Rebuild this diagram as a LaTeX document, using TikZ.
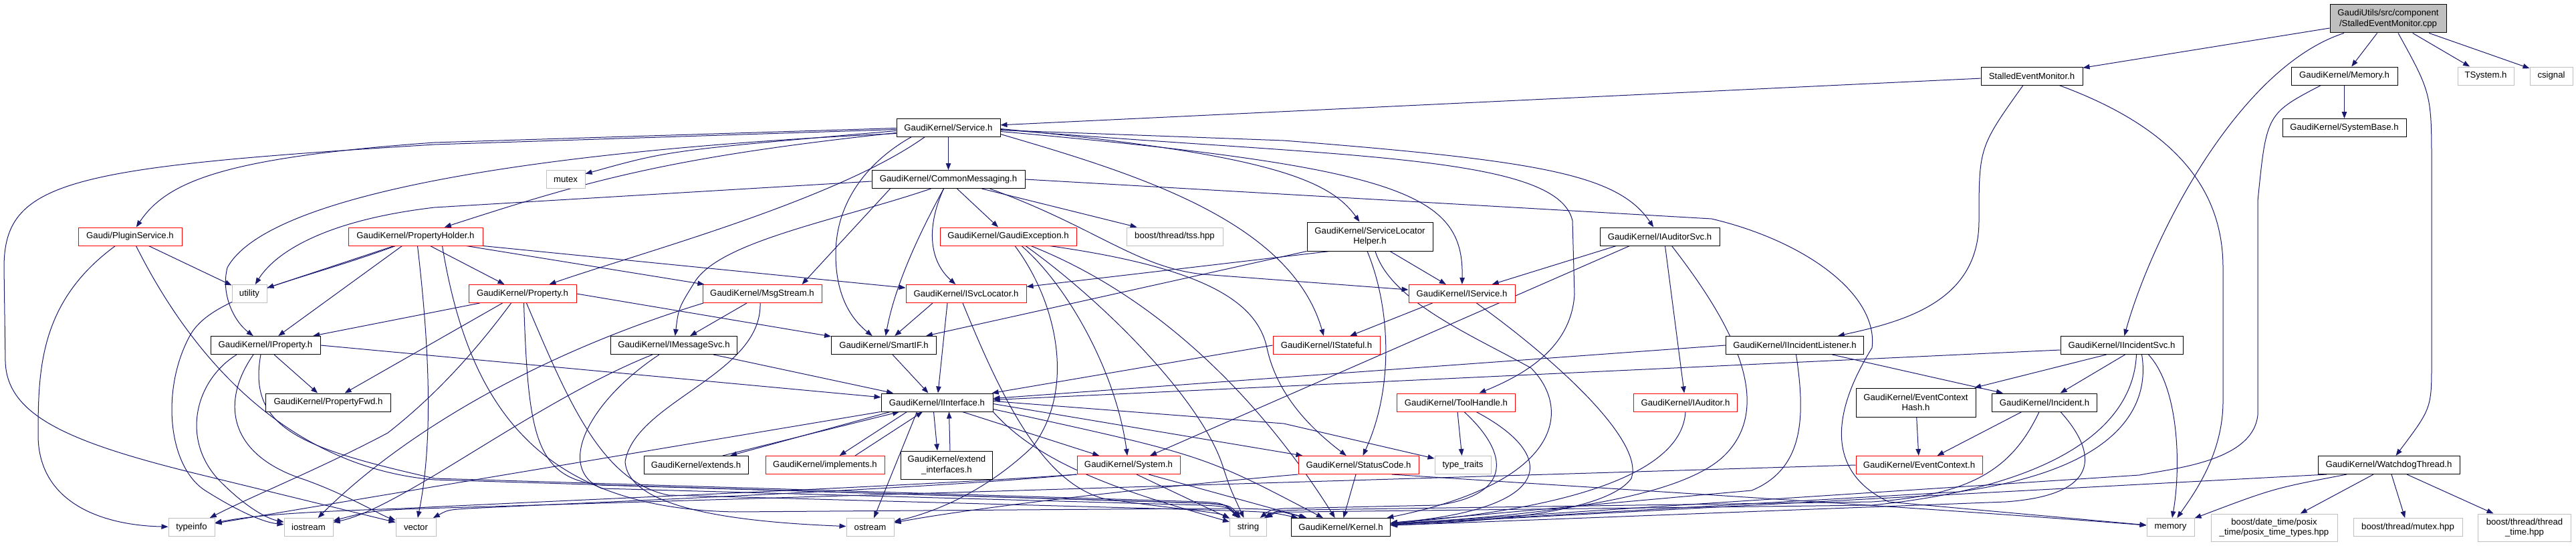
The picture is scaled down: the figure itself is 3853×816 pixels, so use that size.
\documentclass[tikz,border=0pt]{standalone}
\usepackage{fontspec}
\setmainfont{Liberation Sans}
\usetikzlibrary{arrows.meta}
\definecolor{edgec}{RGB}{25,25,112}
\definecolor{grayb}{RGB}{191,191,191}
\pgfdeclarelayer{bg}
\pgfsetlayers{bg,main}
\newcommand{\nodefont}{\fontsize{13.2pt}{15.5pt}\selectfont}
\begin{document}
\begin{tikzpicture}[x=1pt,y=-1pt,
  base/.style={rectangle, inner sep=0pt, minimum height=27pt, font=\nodefont, align=center, line width=1pt, fill=white},
  nb/.style={base, draw=black},
  nr/.style={base, draw=red},
  ng/.style={base, draw=grayb},
  e/.style={draw=edgec, line width=1pt, -{Triangle[length=10pt,width=7.5pt]}},
]
\useasboundingbox (0,0) rectangle (3853,816);

% row 1-2
\node[nb, fill=grayb, minimum width=174pt, minimum height=42pt] (root) at (3572,28) {GaudiUtils/src/component\\/StalledEventMonitor.cpp};
\node[nb, minimum width=152pt] (sem) at (3039,113.5) {StalledEventMonitor.h};
\node[nb, minimum width=159pt] (mem) at (3506.5,113.5) {GaudiKernel/Memory.h};
\node[ng, minimum width=84pt] (tsys) at (3718,113.5) {TSystem.h};
\node[ng, minimum width=64pt] (csig) at (3816,113.5) {csignal};
% row 3
\node[nb, minimum width=155pt] (svc) at (1418.5,190.5) {GaudiKernel/Service.h};
\node[nb, minimum width=185pt] (sysb) at (3506.5,191) {GaudiKernel/SystemBase.h};
% row 4
\node[ng, minimum width=58pt] (mutex) at (846,268) {mutex};
\node[nb, minimum width=229pt] (cm) at (1418.5,268) {GaudiKernel/CommonMessaging.h};
% row 5
\node[nr, minimum width=155pt] (plug) at (194.5,353.5) {Gaudi/PluginService.h};
\node[nr, minimum width=201pt] (ph) at (621.5,353.5) {GaudiKernel/PropertyHolder.h};
\node[nr, minimum width=204pt] (gexc) at (1508,353.5) {GaudiKernel/GaudiException.h};
\node[ng, minimum width=144pt] (tss) at (1757,353.5) {boost/thread/tss.hpp};
\node[nb, minimum width=188pt, minimum height=43pt] (slh) at (2049,353.5) {GaudiKernel/ServiceLocator\\Helper.h};
\node[nb, minimum width=179pt] (iasvc) at (2482.5,353.5) {GaudiKernel/IAuditorSvc.h};
% row 6
\node[ng, minimum width=52pt] (util) at (373,439) {utility};
\node[nr, minimum width=161pt] (prop) at (781.5,439) {GaudiKernel/Property.h};
\node[nr, minimum width=178pt] (msgs) at (1140,439) {GaudiKernel/MsgStream.h};
\node[nr, minimum width=180pt] (isl) at (1445,439) {GaudiKernel/ISvcLocator.h};
\node[nr, minimum width=159pt] (isvc) at (2186.5,439) {GaudiKernel/IService.h};
% row 7
\node[nb, minimum width=164pt] (iprop) at (397,516) {GaudiKernel/IProperty.h};
\node[nb, minimum width=189pt] (imsg) at (1008,516) {GaudiKernel/IMessageSvc.h};
\node[nb, minimum width=157pt] (sif) at (1322,516) {GaudiKernel/SmartIF.h};
\node[nr, minimum width=160pt] (istf) at (1984,516) {GaudiKernel/IStateful.h};
\node[nb, minimum width=206pt] (iil) at (2684.5,516) {GaudiKernel/IIncidentListener.h};
\node[nb, minimum width=183pt] (iisvc) at (3173.5,516) {GaudiKernel/IIncidentSvc.h};
% row 8
\node[nb, minimum width=187pt] (pfwd) at (491,601.5) {GaudiKernel/PropertyFwd.h};
\node[nb, minimum width=167pt] (iint) at (1401.5,601.5) {GaudiKernel/IInterface.h};
\node[nr, minimum width=177pt] (th) at (2178,601.5) {GaudiKernel/ToolHandle.h};
\node[nr, minimum width=155pt] (iaud) at (2521,601.5) {GaudiKernel/IAuditor.h};
\node[nb, minimum width=179pt, minimum height=43pt] (ech) at (2865.5,601.5) {GaudiKernel/EventContext\\Hash.h};
\node[nb, minimum width=157pt] (inc) at (3058,601.5) {GaudiKernel/Incident.h};
% row 9
\node[nb, minimum width=156pt] (ext) at (1041,695) {GaudiKernel/extends.h};
\node[nr, minimum width=178pt] (impl) at (1234,695) {GaudiKernel/implements.h};
\node[nb, minimum width=137pt, minimum height=42pt] (extif) at (1416,695) {GaudiKernel/extend\\\_interfaces.h};
\node[nr, minimum width=154pt] (sys) at (1688,695) {GaudiKernel/System.h};
\node[nr, minimum width=180pt] (sc) at (2032,695) {GaudiKernel/StatusCode.h};
\node[ng, minimum width=84pt] (tt) at (2188,695) {type\_traits};
\node[nr, minimum width=189pt] (ec) at (2870.5,695) {GaudiKernel/EventContext.h};
\node[nb, minimum width=212pt] (wd) at (3573,695) {GaudiKernel/WatchdogThread.h};
% row 10
\node[ng, minimum width=69pt] (tinfo) at (286.5,788) {typeinfo};
\node[ng, minimum width=73pt] (ios) at (461.5,788) {iostream};
\node[ng, minimum width=60pt] (vec) at (622,788) {vector};
\node[ng, minimum width=71pt] (ost) at (1301.5,788) {ostream};
\node[ng, minimum width=55pt] (str) at (1867,788) {string};
\node[nb, minimum width=148pt] (kern) at (2005.5,788) {GaudiKernel/Kernel.h};
\node[ng, minimum width=71pt] (memory) at (3246.5,788) {memory};
\node[ng, minimum width=189pt, minimum height=41pt] (bdt) at (3401.5,788.5) {boost/date\_time/posix\\\_time/posix\_time\_types.hpp};
\node[ng, minimum width=163pt] (bmx) at (3601.5,788) {boost/thread/mutex.hpp};
\node[ng, minimum width=139pt, minimum height=41pt] (btt) at (3776,788.5) {boost/thread/thread\\\_time.hpp};

\begin{pgfonlayer}{bg}
% root
\draw[e] (root) -- (sem);
\draw[e] (root) -- (mem);
\draw[e] (root) -- (tsys);
\draw[e] (root) -- (csig);
\draw[e] ([xshift=-66pt]root.south) .. controls (3350,100) and (3220,350) .. (iisvc);
\draw[e] ([xshift=15pt]root.south) .. controls (3637,140) .. (3637,250) -- (3637,540) .. controls (3637,610) .. (wd);
% sem
\draw[e] (sem) -- (svc);
\draw[e] ([xshift=-13pt]sem.south) .. controls (2960,220) .. (2960,330) .. controls (2960,450) and (2850,480) .. (iil);
\draw[e] ([xshift=41pt]sem.south) .. controls (3250,190) and (3325,280) .. (3325,400) -- (3325,600) .. controls (3325,680) and (3280,740) .. (memory);
% mem
\draw[e] (mem) -- (sysb);
\draw[e] ([xshift=-35pt]mem.south) .. controls (3390,170) .. (3377,300) -- (3377,620) .. controls (3370,690) and (3250,700) .. (3200,710) -- (kern);
% svc
\draw[e] (svc) -- (cm);
\draw[e] ([yshift=-5pt]svc.west) .. controls (1000,225) .. (mutex);
\draw[e] ([yshift=-8pt]svc.west) .. controls (1000,235) and (880,270) .. (ph);
\draw[e] ([yshift=-1pt]svc.west) -- (650,213) .. controls (340,235) and (250,270) .. (plug);
\draw[e] ([yshift=-3pt]svc.west) -- (650,216) .. controls (100,250) and (6,270) .. (6,400) -- (8,540) .. controls (10,620) and (100,660) .. (290,707) -- (vec);
\draw[e] ([yshift=-9pt]svc.west) .. controls (800,225) and (400,290) .. (340,400) .. controls (330,440) and (350,480) .. (iprop);
\draw[e] ([xshift=-35pt]svc.south) .. controls (1250,300) and (950,380) .. (prop);
\draw[e] ([xshift=-55pt]svc.south) .. controls (1300,240) and (1250,300) .. (1250,380) .. controls (1250,430) and (1265,470) .. (sif);
\draw[e] ([yshift=-4pt]svc.east) -- (1920,210) .. controls (2300,240) and (2420,260) .. (iasvc);
\draw[e] ([yshift=-2pt]svc.east) .. controls (1900,230) and (1990,270) .. (slh);
\draw[e] ([yshift=-6pt]svc.east) .. controls (2100,250) and (2190,290) .. (isvc);
\draw[e] ([yshift=-10pt]svc.east) .. controls (1700,260) and (1930,330) .. (istf);
\draw[e] ([yshift=-3pt]svc.east) .. controls (2000,235) and (2330,230) .. (2352,330) -- (2355,440) .. controls (2350,520) and (2280,560) .. (th);
% cm
\draw[e] ([xshift=13pt]cm.south) -- (gexc);
\draw[e] ([xshift=50pt]cm.south) -- (tss);
\draw[e] ([yshift=-3pt]cm.west) -- (650,310) .. controls (480,330) and (410,380) .. (util);
\draw[e] ([xshift=-87pt]cm.south) -- ([xshift=-30pt]msgs.north east);
\draw[e] ([xshift=-26pt]cm.south) .. controls (1250,330) and (1080,360) .. (1040,420) .. controls (1015,460) .. (imsg);
\draw[e] ([xshift=-7pt]cm.south) .. controls (1385,340) and (1390,390) .. (isl);
\draw[e] ([xshift=-7pt]cm.south) .. controls (1380,340) and (1340,420) .. (sif);
\draw[e] ([xshift=62pt]cm.south) .. controls (1640,340) and (1700,400) .. (1800,410) -- (isvc);
\draw[e] (cm.east) -- (2560,327) .. controls (2700,360) and (2810,440) .. (2800,520) .. controls (2750,600) and (2720,700) .. (2825,750) -- (memory);
% ph
\draw[e] ([xshift=-32pt]ph.south) -- (util);
\draw[e] ([xshift=-20pt]ph.south) -- (iprop);
\draw[e] ([xshift=22pt]ph.south) -- (prop);
\draw[e] ([xshift=76pt]ph.south) -- (msgs);
\draw[e] (ph.south east) -- (isl);
\draw[e] ([xshift=-30pt]ph.south) .. controls (450,420) and (320,440) .. (285,500) .. controls (240,580) and (250,700) .. (310,735) .. controls (350,760) and (390,780) .. (ios);
\draw[e] ([xshift=3pt]ph.south) .. controls (640,500) and (650,650) .. (vec);
\draw[e] ([xshift=40pt]ph.south) .. controls (700,600) and (800,760) .. (1100,765) -- (1800,760) .. controls (1900,760) .. (kern);
% prop
\draw[e] ([xshift=-64pt]prop.south) -- (iprop);
\draw[e] ([xshift=-30pt]prop.south) -- (pfwd);
\draw[e] (prop.east) -- (sif);
\draw[e] ([xshift=-17pt]prop.south) .. controls (700,540) and (640,600) .. (580,647) .. controls (480,700) and (380,740) .. (tinfo);
\draw[e] ([xshift=2pt]prop.south) .. controls (790,650) and (800,715) .. (900,725) -- (1800,752) .. controls (1840,755) .. (str);
\draw[e] ([xshift=6pt]prop.south) .. controls (850,600) and (900,720) .. (1000,740) -- (1800,762) .. controls (1900,765) .. (kern);
% msgs
\draw[e] ([xshift=-23pt]msgs.south) -- (imsg);
\draw[e] ([xshift=-3pt]msgs.south) .. controls (1140,560) and (950,600) .. (935,690) .. controls (940,760) and (1100,780) .. (ost);
\draw[e] ([xshift=-88pt]msgs.south) .. controls (800,530) and (600,650) .. (ios);
% imsg
\draw[e] ([xshift=59pt]imsg.south) -- (iint);
\draw[e] ([xshift=-32pt]imsg.south) .. controls (800,600) and (600,760) .. (ios);
\draw[e] ([xshift=-22pt]imsg.south) .. controls (880,600) and (830,700) .. (900,730) -- (1800,755) .. controls (1835,757) .. (str);
% iprop
\draw[e] (iprop.east) -- (iint);
\draw[e] ([xshift=13pt]iprop.south) -- (pfwd);
\draw[e] ([xshift=-43pt]iprop.south) .. controls (290,570) and (270,660) .. (330,720) .. controls (370,760) and (400,775) .. (ios);
\draw[e] ([xshift=-18pt]iprop.south) .. controls (330,600) and (340,680) .. (456,717) .. controls (520,740) and (570,770) .. (vec);
\draw[e] ([xshift=-7pt]iprop.south) .. controls (370,640) and (450,670) .. (650,715) -- (1800,750) .. controls (1830,752) .. (str);
% iint
\draw[e] ([xshift=-70pt]iint.south) -- (ext);
\draw[e] ([xshift=40pt]ext.north) -- (iint);
\draw[e] ([xshift=-45pt]iint.south) -- (impl);
\draw[e] ([xshift=45pt]impl.north) -- (iint);
\draw[e] ([xshift=-5pt]iint.south) -- ([xshift=-14pt]extif.north);
\draw[e] ([xshift=5pt]extif.north) -- ([xshift=18pt]iint.south);
\draw[e] ([xshift=38pt]iint.south) -- (sys);
\draw[e] ([yshift=-2pt]iint.east) -- (sc);
\draw[e] ([yshift=2pt]iint.east) -- (1920,633) -- (tt);
\draw[e] ([yshift=4pt]iint.south east) .. controls (1800,680) .. (kern);
\draw[e] (iint) -- (tinfo);
\draw[e] ([xshift=-30pt]iint.south) -- (ost);
\draw[e] (iint.south east) .. controls (1560,700) and (1700,740) .. (str);
% sys
\draw[e] ([xshift=12pt]sys.south) -- (str);
\draw[e] ([xshift=30pt]sys.south) -- (kern);
\draw[e] (sys.south west) .. controls (1400,725) and (900,745) .. (600,760) .. controls (450,765) and (380,770) .. (tinfo);
\draw[e] (sys.south west) .. controls (1400,730) and (900,750) .. (700,760) .. controls (670,762) .. (vec);
% sc
\draw[e] ([xshift=-4pt]sc.south) -- (kern);
\draw[e] (sc.south west) .. controls (1700,730) and (1450,760) .. (ost);
\draw[e] ([xshift=50pt]sc.south) .. controls (2400,730) and (2900,760) .. (memory);
% sif, isl, isvc, istf
\draw[e] (sif) -- (iint);
\draw[e] ([xshift=-50pt]isl.south) -- (sif);
\draw[e] ([xshift=-28pt]isl.south) -- (iint);
\draw[e] ([xshift=-5pt]isl.south) .. controls (1500,600) and (1560,720) .. (1650,745) .. controls (1750,760) and (1820,765) .. (str);
\draw[e] ([xshift=-44pt]isvc.south) -- (istf);
\draw[e] ([xshift=22pt]isvc.south) .. controls (2330,540) and (2460,660) .. (2440,715) .. controls (2400,770) and (2200,780) .. (kern);
\draw[e] (istf.west) -- (iint);
% slh
\draw[e] (slh.south west) -- (sif);
\draw[e] ([xshift=-60pt]slh.south) -- (isl);
\draw[e] ([xshift=30pt]slh.south) -- (isvc);
\draw[e] ([xshift=-4pt]slh.south) .. controls (2080,460) and (2085,580) .. (sc);
\draw[e] ([xshift=8pt]slh.south) .. controls (2080,450) and (2200,500) .. (2290,550) .. controls (2350,610) and (2340,720) .. (kern);
% iasvc
\draw[e] ([xshift=-65pt]iasvc.south) -- (isvc);
\draw[e] ([xshift=-45pt]iasvc.south) -- (sys);
\draw[e] ([xshift=8pt]iasvc.south) -- (iaud);
\draw[e] ([xshift=18pt]iasvc.south) .. controls (2580,470) and (2660,600) .. (2580,680) .. controls (2500,760) and (2200,775) .. (kern);
% iaud, th
\draw[e] (iaud.south) .. controls (2515,720) and (2300,765) .. (kern);
\draw[e] ([xshift=2pt]th.south) -- (tt);
\draw[e] ([xshift=12pt]th.south) .. controls (2260,680) and (2260,740) .. (2150,755) -- (1920,760) .. controls (1900,762) .. (str);
\draw[e] ([xshift=30pt]th.south) .. controls (2330,680) and (2330,760) .. (kern);
% iil
\draw[e] (iil.west) -- (iint);
\draw[e] ([xshift=56pt]iil.south) -- (inc);
\draw[e] ([xshift=2pt]iil.south) .. controls (2700,620) and (2700,700) .. (2620,733) -- (kern);
% iisvc
\draw[e] ([yshift=-7pt]iisvc.west) -- (iint);
\draw[e] ([xshift=-23pt]iisvc.south) -- (ech);
\draw[e] ([xshift=5pt]iisvc.south) -- (inc);
\draw[e] ([xshift=40pt]iisvc.south) .. controls (3260,580) and (3262,700) .. (memory);
\draw[e] ([xshift=22pt]iisvc.south) .. controls (3190,650) and (3050,730) .. (2800,755) -- (1950,765) .. controls (1910,765) .. (str);
\draw[e] ([xshift=30pt]iisvc.south) .. controls (3215,600) and (3180,700) .. (2930,735) -- (kern);
% inc, ech, ec
\draw[e] ([xshift=-34pt]inc.south) -- (ec);
\draw[e] ([xshift=-8pt]inc.south) .. controls (3010,700) and (2950,740) .. (2800,750) -- (1950,762) .. controls (1910,763) .. (str);
\draw[e] ([xshift=24pt]inc.south) .. controls (3140,680) and (3140,740) .. (3000,750) -- (kern);
\draw[e] (ech) -- (ec);
\draw[e] (ec.west) -- (700,758) .. controls (560,762) .. (ios);
% wd
\draw[e] ([xshift=-93pt]wd.south) -- (kern);
\draw[e] ([xshift=-63pt]wd.south) .. controls (3400,730) .. (memory);
\draw[e] ([xshift=-23pt]wd.south) -- (bdt);
\draw[e] ([xshift=4pt]wd.south) -- (bmx);
\draw[e] ([xshift=27pt]wd.south) -- (btt);
% plug
\draw[e] ([xshift=-22pt]plug.south) .. controls (60,450) and (57,550) .. (57,650) .. controls (57,750) and (150,785) .. (tinfo);
\draw[e] ([xshift=28pt]plug.south) -- (util);
\draw[e] ([xshift=9pt]plug.south) .. controls (300,560) and (450,700) .. (650,717) -- (1800,752) .. controls (1835,754) .. (str);
% gexc
\draw[e] ([xshift=62pt]gexc.south) .. controls (1800,400) and (1880,450) .. (1895,520) .. controls (1910,590) and (1960,640) .. (sc);
\draw[e] ([xshift=20pt]gexc.south) .. controls (1600,430) and (1670,560) .. (sys);
\draw[e] ([xshift=26pt]gexc.south) .. controls (1650,450) and (1800,600) .. (1830,700) .. controls (1840,730) .. (str);
\draw[e] ([xshift=34pt]gexc.south) .. controls (1750,450) and (1900,620) .. (kern);
\draw[e] ([xshift=10pt]gexc.south) .. controls (1580,450) and (1610,580) .. (1545,667) .. controls (1490,720) and (1420,760) .. (ost);
\end{pgfonlayer}
\end{tikzpicture}
\end{document}
